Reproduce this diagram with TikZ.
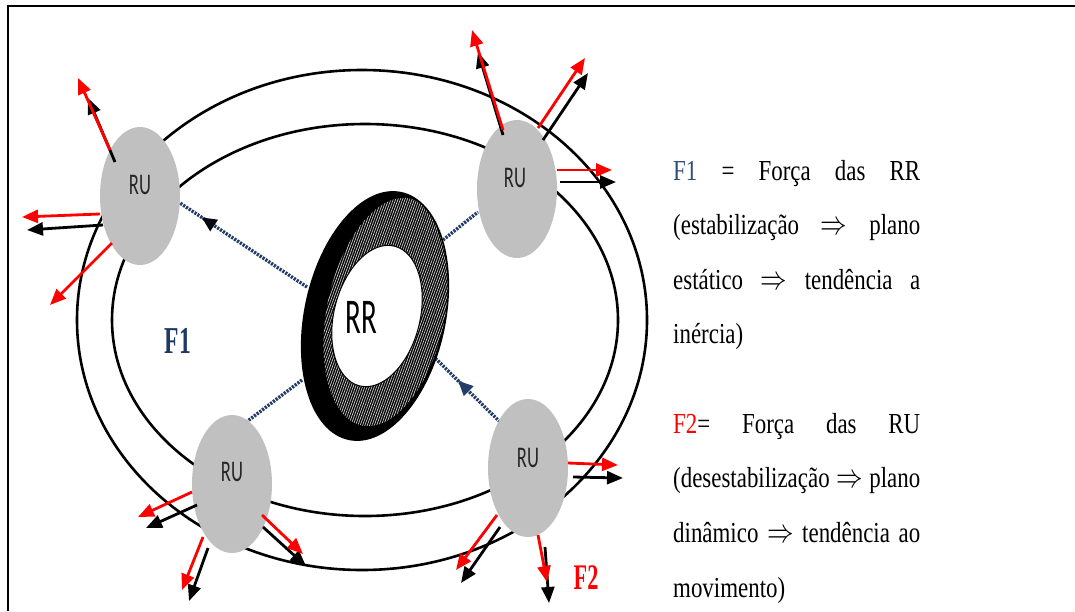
\documentclass[tikz,border=0pt]{standalone}
\usepackage{fontspec}
\setmainfont{Liberation Serif}
\newfontfamily\calib{Carlito}
\usepackage{graphicx}
\usetikzlibrary{arrows.meta,shapes.geometric,patterns.meta,decorations.markings}
\definecolor{navy}{RGB}{31,56,100}
\definecolor{dotblue}{RGB}{36,60,104}
\definecolor{slate}{RGB}{50,78,118}
\definecolor{rugray}{RGB}{192,192,192}
% one justified line of the legend, and one ragged last line
\newcommand\jline[1]{\scalebox{0.79}[1]{\makebox[312.7pt][s]{#1}}}
\newcommand\pline[1]{\scalebox{0.79}[1]{#1}}
\newcommand\implies{\scalebox{1.35}{$\Rightarrow$}}
\begin{document}
\begin{tikzpicture}[x=1pt,y=-1pt,
  orbit/.style={draw=black, line width=2.6pt},
  rubody/.style={ellipse, fill=rugray, minimum width=80pt, minimum height=138pt, inner sep=0pt},
  rutext/.style={font=\calib\fontsize{30}{30}\selectfont, text=black!85, inner sep=0pt},
  force/.style={line width=2.8pt, -{Triangle[length=16pt,width=13pt]}},
  redforce/.style={force, draw=red},
  blkforce/.style={force, draw=black},
  link/.style={draw=dotblue, line width=3.4pt, dash pattern=on 2.2pt off 1.2pt},
  desc/.style={anchor=base west, inner sep=0pt, font=\fontsize{29}{29}\selectfont},
]
\useasboundingbox (0,0) rectangle (1075,611);

% frame
\draw[line width=2.8pt] (8,611) -- (8,6) -- (1076,6);

% orbits
\draw[orbit] (362,320) ellipse [x radius=285, y radius=250];
\draw[orbit] (365,320) ellipse [x radius=253, y radius=196];

% links between the RR ring and the RU bodies
\coordinate (d1a) at (307,287); \coordinate (d1b) at (180,203);
\coordinate (d2a) at (443,240); \coordinate (d2b) at (478,212);
\coordinate (d3a) at (302,380); \coordinate (d3b) at (245,423);
\coordinate (d4a) at (500,422); \coordinate (d4b) at (430,353);
\draw[link, decoration={markings, mark=at position 0.83 with {\arrow[black!85!navy]{Triangle[length=15pt,width=13pt]}}}, postaction={decorate}] (d1a) -- (d1b);
\draw[link] (d2a) -- (d2b);
\draw[link] (d3a) -- (d3b);
\draw[link, decoration={markings, mark=at position 0.6 with {\arrow[dotblue]{Triangle[length=15pt,width=13pt]}}}, postaction={decorate}] (d4a) -- (d4b);

% RR ring
\fill[black, rotate around={-12:(375,316)}] (375,316) ellipse [x radius=70, y radius=126];
\begin{scope}
  \clip[rotate around={-12:(386,312)}] (386,312) ellipse [x radius=59, y radius=116];
  \fill[pattern={Lines[angle=70,distance=2.2pt,line width=0.7pt]}, pattern color=gray!40] (290,170) rectangle (470,460);
\end{scope}
\draw[black, line width=1.6pt, rotate around={-12:(375,316)}] (375,316) ellipse [x radius=70, y radius=126];
\fill[white, rotate around={-14:(377,316)}] (377,316) ellipse [x radius=43, y radius=72];
\draw[black, line width=1pt, rotate around={-14:(377,316)}] (377,316) ellipse [x radius=43, y radius=72];
\node[font=\calib\fontsize{50}{50}\selectfont, inner sep=0pt] (rr) at (361,317) {\scalebox{0.58}[1]{RR}};

% RU bodies
\node[rubody] (ruTL) at (140,196) {};
\node[rubody] (ruTR) at (517,189) {};
\node[rubody] (ruBL) at (232,484) {};
\node[rubody] (ruBR) at (528,468) {};
\node[rutext] (tTL) at (140,185) {\scalebox{0.62}[1]{RU}};
\node[rutext] (tTR) at (515,178) {\scalebox{0.62}[1]{RU}};
\node[rutext] (tBL) at (232,472) {\scalebox{0.62}[1]{RU}};
\node[rutext] (tBR) at (528,458) {\scalebox{0.62}[1]{RU}};

% forces on the upper left RU
\coordinate (a1s) at (115,162); \coordinate (a1e) at (88,98);
\coordinate (b1s) at (110,150); \coordinate (b1e) at (78,78);
\coordinate (a2s) at (103,225); \coordinate (a2e) at (27,230);
\coordinate (b2s) at (100,214); \coordinate (b2e) at (22,217);
\coordinate (b3s) at (112,243); \coordinate (b3e) at (50,305);
% forces on the upper right RU
\coordinate (a4s) at (503,135); \coordinate (a4e) at (478,52);
\coordinate (b4s) at (503,130); \coordinate (b4e) at (472,30);
\coordinate (a5s) at (543,140); \coordinate (a5e) at (588,73);
\coordinate (b5s) at (538,128); \coordinate (b5e) at (585,58);
\coordinate (a6s) at (560,182); \coordinate (a6e) at (616,182);
\coordinate (b6s) at (557,170); \coordinate (b6e) at (612,170);
% forces on the lower left RU
\coordinate (a7s) at (197,505); \coordinate (a7e) at (146,528);
\coordinate (b7s) at (192,492); \coordinate (b7e) at (138,517);
\coordinate (a8s) at (208,548); \coordinate (a8e) at (189,601);
\coordinate (b8s) at (203,537); \coordinate (b8e) at (182,590);
\coordinate (a9s) at (263,527); \coordinate (a9e) at (306,566);
\coordinate (b9s) at (262,515); \coordinate (b9e) at (303,554);
% forces on the lower right RU
\coordinate (a10s) at (573,477); \coordinate (a10e) at (623,478);
\coordinate (b10s) at (568,463); \coordinate (b10e) at (618,465);
\coordinate (a11s) at (500,527); \coordinate (a11e) at (461,583);
\coordinate (b11s) at (497,515); \coordinate (b11e) at (456,570);
\coordinate (a12s) at (545,547); \coordinate (a12e) at (549,603);
\coordinate (b12s) at (538,535); \coordinate (b12e) at (547,582);

\foreach \i in {1,2,4,5,6,7,8,9,10,11,12} \draw[blkforce] (a\i s) -- (a\i e);
\foreach \i in {1,...,12} \draw[redforce] (b\i s) -- (b\i e);

% force labels
\node[anchor=base, inner sep=0pt, text=navy, font=\bfseries\fontsize{38}{38}\selectfont] (f1) at (178,353) {\scalebox{0.62}[1]{F1}};
\node[anchor=base, inner sep=0pt, text=red, font=\bfseries\fontsize{36}{36}\selectfont] (f2) at (586,589) {\scalebox{0.62}[1]{F2}};

% legend
\node[desc] (l1) at (673,180) {\jline{\textcolor{slate}{F1} = Força das RR}};
\node[desc] (l2) at (673,234) {\jline{(estabilização \implies{} plano}};
\node[desc] (l3) at (673,289) {\jline{estático \implies{} tendência a}};
\node[desc] (l4) at (673,343) {\pline{inércia)}};
\node[desc] (m1) at (673,433) {\jline{\textcolor{red}{F2}= Força das RU}};
\node[desc] (m2) at (673,487) {\jline{(desestabilização \implies{} plano}};
\node[desc] (m3) at (673,542) {\jline{dinâmico \implies{} tendência ao}};
\node[desc] (m4) at (673,597) {\pline{movimento)}};
\end{tikzpicture}
\end{document}
